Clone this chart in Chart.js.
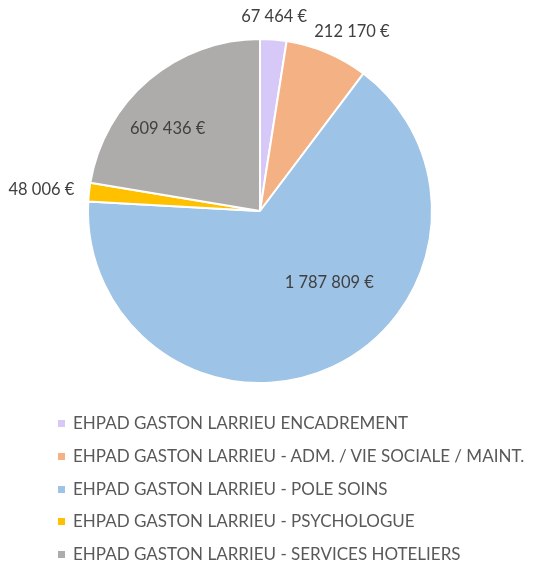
<!DOCTYPE html>
<html>
<head>
<meta charset="utf-8">
<script src="https://cdn.jsdelivr.net/npm/chart.js@4.4.1/dist/chart.umd.min.js"></script>
<style>
  html, body { margin: 0; padding: 0; background: #fff; }
  #wrap { position: relative; width: 534px; height: 568px; }
  #legend { position: absolute; left: 58px; top: 414px; font-family: Lato, "Liberation Sans", sans-serif; font-size: 17px; line-height: 18px; color: #595959; }
  #legend .row { height: 32.8px; display: flex; align-items: flex-start; white-space: nowrap; }
  #legend .box { width: 7px; height: 7px; margin: 6px 8px 0 0; flex: none; }
</style>
</head>
<body>
<div id="wrap">
  <canvas id="pieChart" width="534" height="568"></canvas>
  <div id="legend"></div>
</div>
<script>
(function () {
    'use strict';

    var categories = [
        'EHPAD GASTON LARRIEU ENCADREMENT',
        'EHPAD GASTON LARRIEU - ADM. / VIE SOCIALE / MAINT.',
        'EHPAD GASTON LARRIEU - POLE SOINS',
        'EHPAD GASTON LARRIEU - PSYCHOLOGUE',
        'EHPAD GASTON LARRIEU - SERVICES HOTELIERS'
    ];
    var amounts = [67464, 212170, 1787809, 48006, 609436];
    var colors = ['#D7C9F7', '#F4B183', '#9DC3E6', '#FFC000', '#AEABAB'];

    // where each value label goes: outside the rim, or inside at a ratio of the radius
    var labelPlacement = [
        { mode: 'outside', spread: -0.15 },
        { mode: 'outside', spread: 1.3 },
        { mode: 'inside', ratio: 0.58, shift: -19 },
        { mode: 'outside', spread: 1 },
        { mode: 'inside', ratio: 0.72, shift: -8 }
    ];

    function euro(v) {
        return String(v).replace(/\B(?=(\d{3})+(?!\d))/g, ' ') + ' €';
    }

    var valueLabels = {
        id: 'valueLabels',
        afterDatasetsDraw: function (chart) {
            var ctx = chart.ctx;
            var meta = chart.getDatasetMeta(0);
            ctx.save();
            ctx.font = '16.5px Lato, "Liberation Sans", sans-serif';
            ctx.fillStyle = '#404040';
            ctx.textAlign = 'center';
            ctx.textBaseline = 'middle';
            meta.data.forEach(function (arc, i) {
                var p = labelPlacement[i];
                var text = euro(amounts[i]);
                var mid = (arc.startAngle + arc.endAngle) / 2;
                var x, y;
                if (p.mode === 'outside') {
                    var w = ctx.measureText(text).width;
                    var dx = Math.cos(mid), dy = Math.sin(mid);
                    var d = arc.outerRadius + 15;
                    x = arc.x + dx * d + dx * w / 2 * p.spread;
                    y = arc.y + dy * d + dy * 8;
                } else {
                    var a = mid + p.shift * Math.PI / 180;
                    x = arc.x + Math.cos(a) * arc.outerRadius * p.ratio;
                    y = arc.y + Math.sin(a) * arc.outerRadius * p.ratio;
                }
                ctx.fillText(text, x, y);
            });
            ctx.restore();
        }
    };

    var ctx = document.getElementById('pieChart').getContext('2d');
    new Chart(ctx, {
        type: 'pie',
        data: {
            labels: categories,
            datasets: [{
                data: amounts,
                backgroundColor: colors,
                borderColor: '#ffffff',
                borderWidth: 2
            }]
        },
        options: {
            responsive: false,
            animation: false,
            layout: { padding: { left: 87, right: 101, top: 38, bottom: 184 } },
            plugins: {
                legend: { display: false },
                tooltip: { enabled: false }
            }
        },
        plugins: [valueLabels]
    });

    var legend = document.getElementById('legend');
    categories.forEach(function (name, i) {
        var row = document.createElement('div');
        row.className = 'row';
        var box = document.createElement('span');
        box.className = 'box';
        box.style.background = colors[i];
        var label = document.createElement('span');
        label.textContent = name;
        row.appendChild(box);
        row.appendChild(label);
        legend.appendChild(row);
    });
}());
</script>
</body>
</html>
